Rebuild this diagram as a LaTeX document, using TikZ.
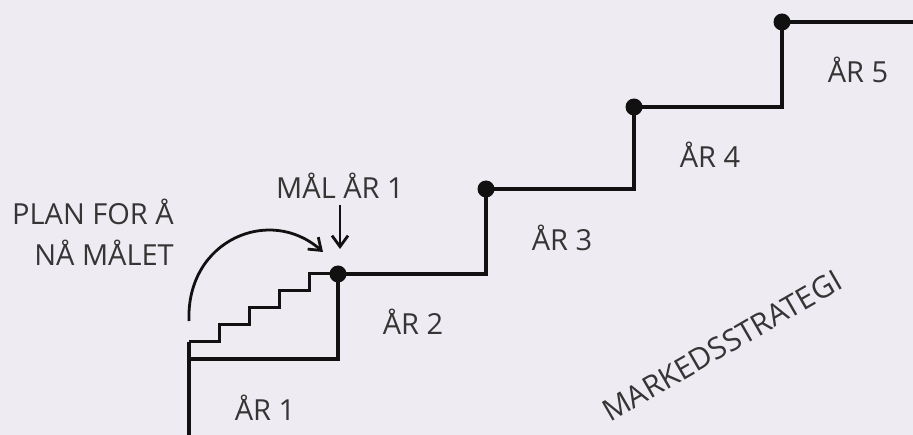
\documentclass[tikz,border=0pt]{standalone}
\usepackage{fontspec}
\setmainfont{Open Sans}
\usetikzlibrary{arrows.meta}
\definecolor{bg}{HTML}{EEECF2}
\definecolor{ink}{HTML}{111111}
\begin{document}
\begin{tikzpicture}[x=1pt,y=-1pt,
  stair/.style={draw=ink,line width=3.2pt,line join=miter},
  dot/.style={circle,fill=ink,inner sep=0pt,minimum size=17pt},
  lbl/.style={font=\fontsize{29}{34}\selectfont,text=ink!85,inner sep=0pt},
  pointer/.style={draw=ink,line width=2.8pt,-{Straight Barb[length=11pt,width=16pt,line width=2.8pt]}}]
\fill[bg] (0,0) rectangle (913,435);
\useasboundingbox (0,0) rectangle (913,435);
% dots
\node[dot] (d1) at (338,274) {};
\node[dot] (d2) at (486,189) {};
\node[dot] (d3) at (634,107) {};
\node[dot] (d4) at (782,22) {};
\coordinate (b0) at (189,437);
\coordinate (s0) at (189,342);
\coordinate (e5) at (915,22);
% main stair
\draw[stair] (b0) -- (s0);
\draw[stair] (189,359) -- (338,359) -- (d1.center) -- (486,274) -- (d2.center) -- (634,189) -- (d3.center) -- (782,107) -- (d4.center) -- (e5);
% small stair
\draw[stair,line width=3pt] (s0) -- ++(30,0) -- ++(0,-17) -- ++(30,0) -- ++(0,-17) -- ++(30,0) -- ++(0,-17) -- ++(30,0) -- ++(0,-17) -- (d1.center);
% curved arrow
\coordinate (ca) at (189,321);
\coordinate (cb) at (323,252);
\draw[pointer] (ca) .. controls (186,240) and (270,205) .. (cb);
% down arrow
\coordinate (da) at (340,205);
\coordinate (db) at (340,249);
\draw[pointer] (da) -- (db);
% labels
\node[lbl] (mal) at (340,186) {MÅL ÅR 1};
\node[lbl,align=right,anchor=north east,font=\fontsize{29}{41}\selectfont] (plan) at (174,199) {PLAN FOR Å\\NÅ MÅLET};
\node[lbl] (a1) at (265,408) {ÅR 1};
\node[lbl] (a2) at (413,322) {ÅR 2};
\node[lbl] (a3) at (562,238) {ÅR 3};
\node[lbl] (a4) at (710,155) {ÅR 4};
\node[lbl] (a5) at (858,70) {ÅR 5};
\node[lbl,rotate=30,font=\fontsize{30}{34}\selectfont] (ms) at (722,346) {MARKEDSSTRATEGI};
\end{tikzpicture}
\end{document}
